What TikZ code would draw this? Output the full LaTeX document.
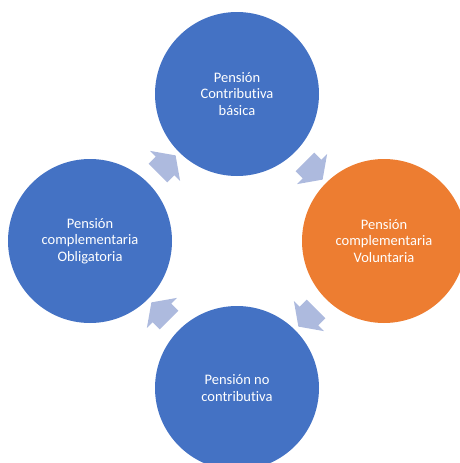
\documentclass[tikz,border=0pt]{standalone}
\usepackage{fontspec}
\setmainfont{Carlito}[Ligatures=NoCommon]
\usetikzlibrary{shapes.arrows,calc}
\definecolor{azul}{RGB}{68,114,196}
\definecolor{naranja}{RGB}{237,125,49}
\definecolor{flecha}{RGB}{173,186,222}
\begin{document}
\begin{tikzpicture}[x=1pt,y=-1pt,
  circulo/.style={circle,fill=azul,minimum size=164pt,inner sep=0pt,text=white,align=center,font=\fontsize{14.5}{16.5}\selectfont},
  flechabox/.style={single arrow,fill=flecha,minimum height=25pt,inner xsep=0pt,inner ysep=13pt,single arrow head extend=8pt,single arrow tip angle=110}]
\clip (0,0) rectangle (460,463);
\node[circulo] (basica) at (237,94) {Pensión\\Contributiva\\básica};
\node[circulo,fill=naranja] (voluntaria) at (384,241) {Pensión\\complementaria\\Voluntaria};
\node[circulo] (nocontrib) at (237,388) {Pensión no\\contributiva};
\node[circulo] (obligatoria) at (90,241) {Pensión\\complementaria\\Obligatoria};
\node[flechabox,rotate=-45] (f1) at ($(basica)!0.5!(voluntaria)$) {};
\node[flechabox,rotate=-135] (f2) at ($(voluntaria)!0.5!(nocontrib)$) {};
\node[flechabox,rotate=135] (f3) at ($(nocontrib)!0.5!(obligatoria)$) {};
\node[flechabox,rotate=45] (f4) at ($(obligatoria)!0.5!(basica)$) {};
\end{tikzpicture}
\end{document}
